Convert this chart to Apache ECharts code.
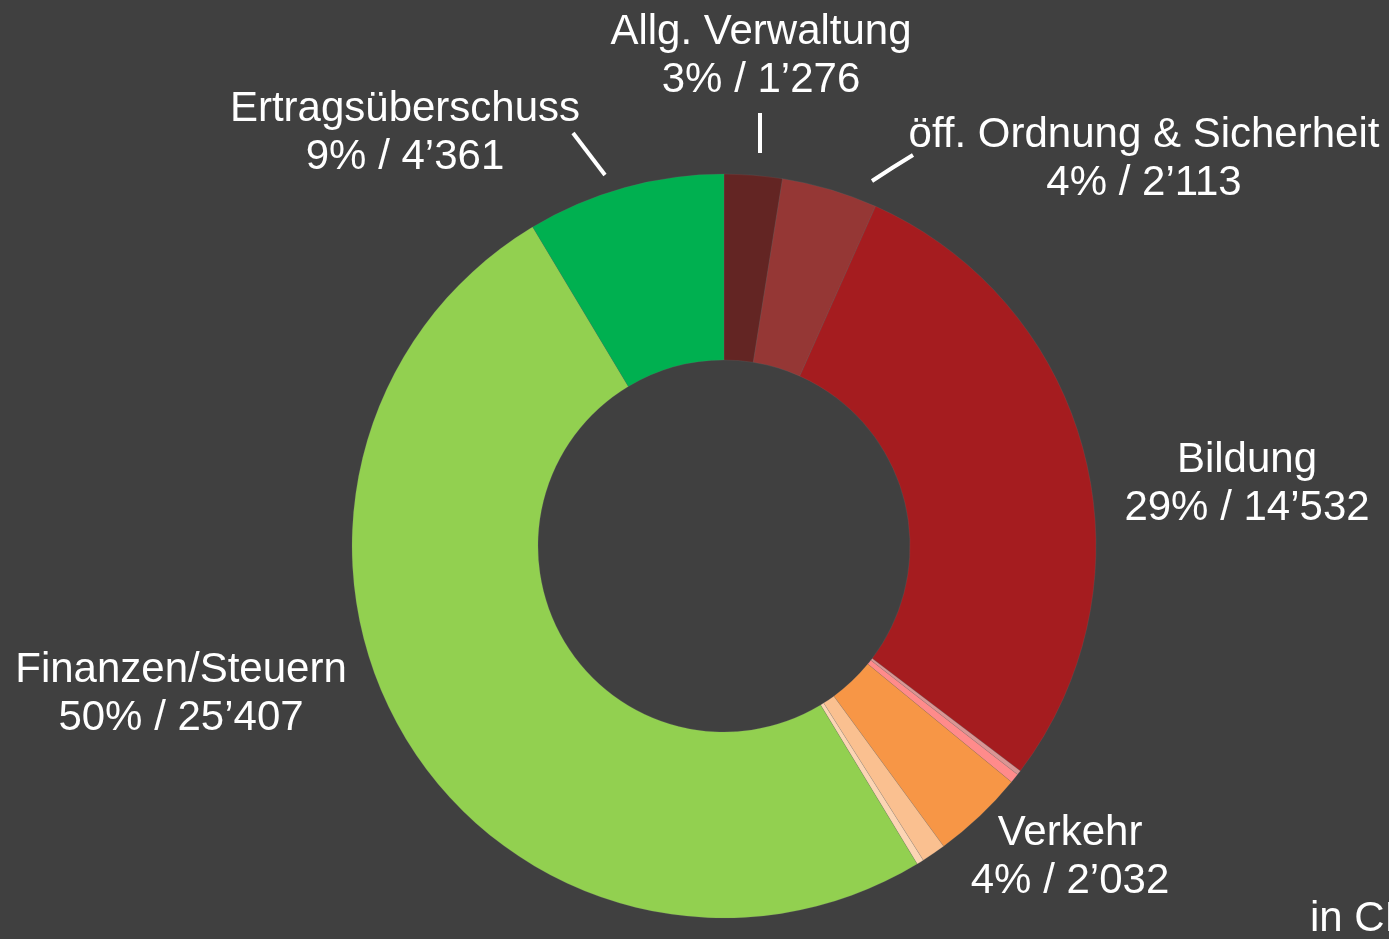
<!DOCTYPE html>
<html>
<head>
<meta charset="utf-8">
<script src="https://cdn.jsdelivr.net/npm/echarts@6/dist/echarts.min.js"></script>
<style>
  html, body { margin: 0; padding: 0; background: #404040; }
  #chart { width: 1389px; height: 939px; }
</style>
</head>
<body>
<div id="chart"></div>
<script>
// Budget by function (clockwise from 12 o'clock), in CHF 1'000
const categories = [
  'Allg. Verwaltung',
  'öff. Ordnung & Sicherheit',
  'Bildung',
  'Kultur',
  'Gesundheit',
  'Verkehr',
  'Umwelt',
  'Volkswirtschaft',
  'Finanzen/Steuern',
  'Ertragsüberschuss'
];
const values = [1276, 2113, 14532, 100, 210, 2032, 535, 155, 25407, 4361];
const labelled = [true, true, true, false, false, true, false, false, true, true];
const colors = ['#632523', '#953735', '#A51C1F', '#D99694', '#FF8B8B',
                '#F79646', '#FAC090', '#FCD5B4', '#92D050', '#00B050'];

// label placement (centre of text block) and leader lines
const labelPos = {
  0: { x: 761, y: 56, line: [[760, 153], [760, 133], [760, 113]] },
  1: { x: 1144, y: 159, line: [[872, 181], [892, 168], [913, 155]] },
  2: { x: 1247, y: 484 },
  5: { x: 1070, y: 857 },
  8: { x: 181, y: 694 },
  9: { x: 405, y: 133, line: [[605, 175], [589, 154], [573, 133]] }
};

const total = values.reduce((a, b) => a + b, 0);
const fmt = v => String(v).replace(/\B(?=(\d{3})+(?!\d))/g, '\u2019');

const chart = echarts.init(document.getElementById('chart'));
chart.setOption({
  backgroundColor: '#404040',
  animation: false,
  textStyle: { fontFamily: '"Liberation Sans", Arial, sans-serif' },
  series: [{
    type: 'pie',
    center: [724, 546],
    radius: [186, 372],
    startAngle: 90,
    clockwise: true,
    avoidLabelOverlap: false,
    itemStyle: { borderColor: 'rgba(120,120,120,0.35)', borderWidth: 0.5 },
    label: {
      color: '#ffffff',
      fontSize: 42,
      lineHeight: 48,
      fontFamily: '"Liberation Sans", Arial, sans-serif',
      align: 'center',
      formatter: p => p.name + '\n' + Math.round(p.value / total * 100) + '% / ' + fmt(p.value)
    },
    labelLine: {
      show: true,
      lineStyle: { color: '#ffffff', width: 4 }
    },
    labelLayout: params => {
      const pos = labelPos[params.dataIndex];
      if (!pos) return {};
      const out = { x: pos.x, y: pos.y, align: 'center', verticalAlign: 'middle' };
      if (pos.line) out.labelLinePoints = pos.line;
      return out;
    },
    data: categories.map((name, i) => ({
      name: name,
      value: values[i],
      itemStyle: { color: colors[i] },
      label: { show: labelled[i] },
      labelLine: { show: !!(labelPos[i] && labelPos[i].line) }
    }))
  }],
  graphic: [{
    type: 'text',
    left: 1310,
    top: 898,
    style: {
      text: 'in CHF 1\u2019000',
      fill: '#ffffff',
      fontSize: 42,
      fontFamily: '"Liberation Sans", Arial, sans-serif'
    }
  }]
});
</script>
</body>
</html>
